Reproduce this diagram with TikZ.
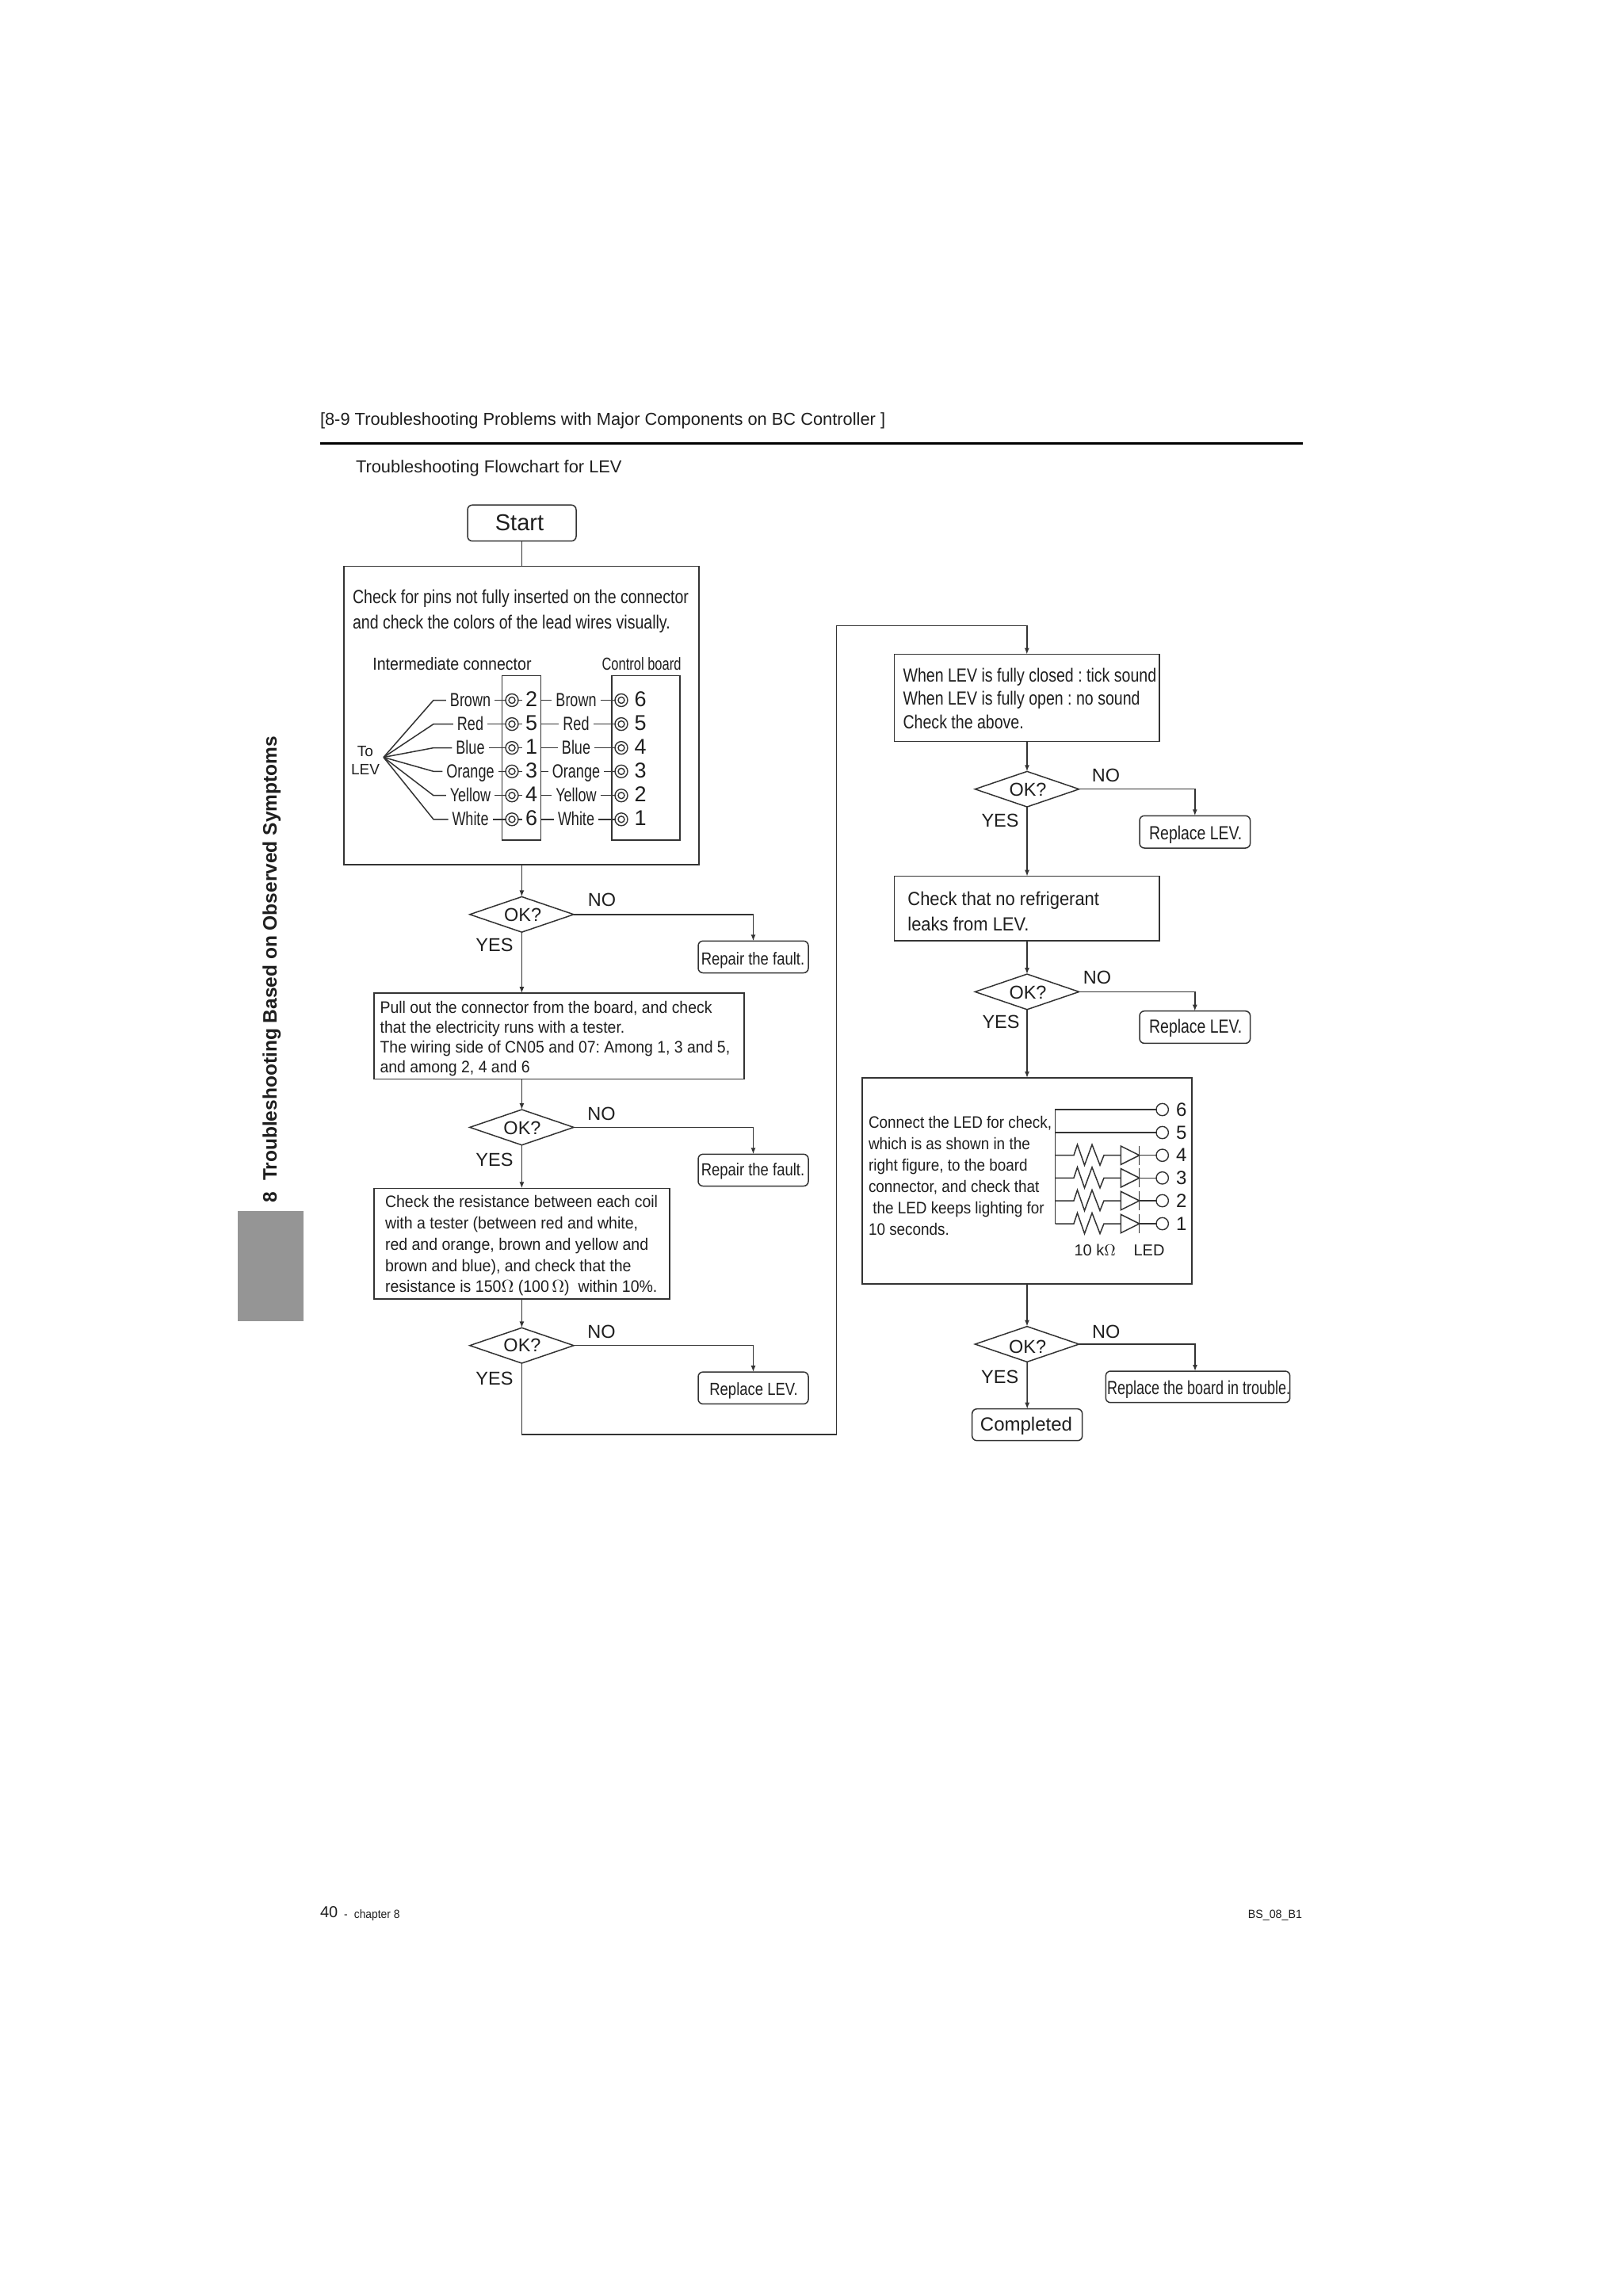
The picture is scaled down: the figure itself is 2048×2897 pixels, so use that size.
\documentclass[tikz,border=0pt]{standalone}
\usepackage{fontspec}
\setmainfont{Liberation Sans}
\usetikzlibrary{arrows.meta,shapes.geometric}
\definecolor{ln}{HTML}{333333}
\definecolor{tx}{HTML}{1E1E1E}
\definecolor{tabgrey}{HTML}{959595}
\frenchspacing
% size in reference px, horizontal stretch, leading in reference px
\newcommand{\tf}[3]{\fontsize{\fpeval{#1/2}pt}{\fpeval{#3/2}pt}\selectfont\addfontfeature{FakeStretch=#2}}
\newcommand{\rectnode}[6]{%
  \pgfmathsetmacro\rw{(#5-#3)*0.5}\pgfmathsetmacro\rh{(#6-#4)*0.5}%
  \node[#1,minimum width=\rw pt,minimum height=\rh pt] (#2) at ({(#3+#5)/2},{(#4+#6)/2}) {};}
\tikzset{
  plainbox/.style={draw=ln,line width=.75pt,inner sep=0pt,outer sep=0pt},
  roundbox/.style={plainbox,rounded corners=3pt},
  okdia/.style={diamond,draw=ln,line width=.75pt,inner sep=0pt,outer sep=0pt,minimum width=65.6pt,minimum height=22.35pt,aspect=2.93},
  txt/.style={inner sep=0pt,outer sep=0pt,text=tx},
  capline/.style={txt,text height=.716em,text depth=0pt,yshift=-.5pt},
  body/.style={txt,anchor=west,align=left},
  answer/.style={capline,font=\tf{23.5}{1}{28}},
  wire/.style={draw=ln,line width=.75pt},
  arr/.style={wire,-{Latex[length=4pt,width=3pt]}},
  pinout/.style={circle,draw=ln,line width=.7pt,inner sep=0pt,outer sep=0pt,minimum size=15.4*0.5pt},
}
\begin{document}
\begin{tikzpicture}[x=0.5pt,y=-0.5pt]
\useasboundingbox (0,0) rectangle (2048,2897);
% page furniture
\node[capline,anchor=west,font=\tf{21.85}{1}{26}] (pagehead) at (404,528) {[8-9 Troubleshooting Problems with Major Components on BC Controller ]};
\coordinate (ruleL) at (404,559.5); \coordinate (ruleR) at (1644,559.5);
\draw[line width=1.5pt,black] (ruleL) -- (ruleR);
\node[capline,anchor=west,font=\tf{21.85}{1}{26}] (chart) at (449,588) {Troubleshooting Flowchart for LEV};
\rectnode{fill=tabgrey,inner sep=0pt}{tab}{300}{1528}{383}{1667}
\node[capline,rotate=90,anchor=west,font=\tf{24.5}{1}{28}\bfseries] (sidetitle) at (342,1516) {8\hspace{.55em}Troubleshooting Based on Observed Symptoms};
\node[capline,anchor=west,font=\tf{20}{1}{24}] (pagenum) at (404,2411.5) {40};
\node[capline,anchor=west,font=\tf{15}{.92}{18}] (pagechap) at (434,2412.5) {-\hspace{.3em} chapter 8};
\node[capline,anchor=east,font=\tf{15}{.95}{18}] (pagecode) at (1643,2412.5) {BS\_08\_B1};

% left column
\rectnode{roundbox}{start}{590}{637.2}{727}{682.7}
\node[capline,font=\tf{29}{1}{32}] (startT) at (655.5,661) {Start};
\rectnode{plainbox}{b1}{434}{714.7}{882}{1091.1}
\node[body,font=\tf{24}{.815}{31.6}] (b1T) at (445,771) {\strut Check for pins not fully inserted on the connector\\\strut and check the colors of the lead wires visually.};
\node[capline,font=\tf{22}{.89}{26}] (interT) at (570.5,837.3) {Intermediate connector};
\node[capline,font=\tf{22}{.75}{26}] (ctrlT) at (809.5,837.3) {Control board};
\rectnode{plainbox}{conn}{633.5}{852.7}{682.5}{1059.9}
\rectnode{plainbox}{board}{772}{852.7}{858}{1059.9}
\node[capline,font=\tf{19}{1}{23}] (toT) at (461,946.8) {To};
\node[capline,font=\tf{19}{1}{23}] (levT) at (461,969.8) {LEV};
\coordinate (fan) at (484,955.5);
\foreach \r/\col/\pa/\pb/\yy in {1/Brown/2/6/883.5,2/Red/5/5/913.6,3/Blue/1/4/943.6,4/Orange/3/3/973.3,5/Yellow/4/2/1003.7,6/White/6/1/1033.8}{
  \node[capline,inner xsep=2.5pt,font=\tf{24}{.75}{28}] (la\r) at (593.5,\yy) {\col};
  \node[capline,inner xsep=2.5pt,font=\tf{24}{.75}{28}] (lb\r) at (727,\yy) {\col};
  \node[pinout,minimum size=8pt] (pa\r) at (646,\yy) {};
  \node[pinout,minimum size=8pt] (pb\r) at (784,\yy) {};
  \node[pinout,minimum size=4pt] (pia\r) at (646,\yy) {};
  \node[pinout,minimum size=4pt] (pib\r) at (784,\yy) {};
  \node[capline,font=\tf{27}{1}{30}] (na\r) at (670.6,\yy) {\pa};
  \node[capline,font=\tf{27}{1}{30}] (nb\r) at (808,\yy) {\pb};
  \coordinate (bend\r) at (547,\yy);
  \coordinate (stub\r) at (658.8,\yy);
  \draw[wire] (fan) -- (bend\r) -- (la\r.west |- bend\r);
  \draw[wire] (la\r.east |- bend\r) -- (pa\r.west);
  \draw[wire] (pa\r.east) -- (stub\r);
  \draw[wire] (conn.east |- bend\r) -- (lb\r.west |- bend\r);
  \draw[wire] (lb\r.east |- bend\r) -- (pb\r.west);
}
\node[okdia] (d1) at (658.4,1153.8) {};
\node[capline,font=\tf{23.5}{1}{28}] (d1T) at (659.6,1154) {OK?};
\node[answer] (d1N) at (759.6,1135) {NO};
\node[answer] (d1Y) at (624,1192.6) {YES};
\rectnode{roundbox}{r1}{881}{1187.3}{1020}{1227.5}
\node[capline,font=\tf{22}{.84}{26}] (r1T) at (950,1209) {Repair the fault.};
\rectnode{plainbox}{b2}{472}{1253.2}{939}{1361.3}
\node[body,font=\tf{21}{.925}{25}] (b2T) at (479.6,1311) {\strut Pull out the connector from the board, and check\\\strut that the electricity runs with a tester.\\\strut The wiring side of CN05 and 07: Among 1, 3 and 5,\\\strut and among 2, 4 and 6};
\node[okdia] (d2) at (658.4,1422.4) {};
\node[capline,font=\tf{23.5}{1}{28}] (d2T) at (659,1423.8) {OK?};
\node[answer] (d2N) at (759,1405.4) {NO};
\node[answer] (d2Y) at (624,1463) {YES};
\rectnode{roundbox}{r2}{881}{1456.3}{1020}{1496.5}
\node[capline,font=\tf{22}{.84}{26}] (r2T) at (950,1475.7) {Repair the fault.};
\rectnode{plainbox}{b3}{472}{1499.4}{845}{1639}
\node[body,font=\tf{21}{.93}{26.8}] (b3T) at (486,1572) {\strut Check the resistance between each coil\\\strut with a tester (between red and white,\\\strut red and orange, brown and yellow and\\\strut brown and blue), and check that the\\\strut resistance is 150$\Omega$ (100\,$\Omega$)\ \ within 10\%.};
\node[okdia] (d3) at (658.4,1697.7) {};
\node[capline,font=\tf{23.5}{1}{28}] (d3T) at (659,1697.7) {OK?};
\node[answer] (d3N) at (759,1680.7) {NO};
\node[answer] (d3Y) at (624,1738.9) {YES};
\rectnode{roundbox}{r3}{881}{1731.1}{1020}{1771.4}
\node[capline,font=\tf{22}{.84}{26}] (r3T) at (951,1752) {Replace LEV.};

% right column
\rectnode{plainbox}{b4}{1128.6}{825.7}{1463}{935.7}
\node[body,font=\tf{24}{.815}{29.3}] (b4T) at (1139.6,884) {\strut When LEV is fully closed : tick sound\\\strut When LEV is fully open : no sound\\\strut Check the above.};
\node[okdia] (d4) at (1296,995.7) {};
\node[capline,font=\tf{23.5}{1}{28}] (d4T) at (1297,996) {OK?};
\node[answer] (d4N) at (1395.4,978.2) {NO};
\node[answer] (d4Y) at (1262,1035.7) {YES};
\rectnode{roundbox}{r4}{1438}{1029.3}{1577.6}{1070}
\node[capline,font=\tf{24}{.81}{28}] (r4T) at (1508.7,1051.4) {Replace LEV.};
\rectnode{plainbox}{b5}{1128.6}{1105.7}{1463}{1187.1}
\node[body,font=\tf{24}{.915}{31.8}] (b5T) at (1145.4,1152) {\strut Check that no refrigerant\\\strut leaks from LEV.};
\node[okdia] (d5) at (1296,1251.4) {};
\node[capline,font=\tf{23.5}{1}{28}] (d5T) at (1297,1252) {OK?};
\node[answer] (d5N) at (1384.4,1232.9) {NO};
\node[answer] (d5Y) at (1263,1289.3) {YES};
\rectnode{roundbox}{r5}{1438}{1275.7}{1577.6}{1316.4}
\node[capline,font=\tf{24}{.81}{28}] (r5T) at (1508.7,1295.4) {Replace LEV.};
\rectnode{plainbox}{b6}{1088}{1360}{1504}{1620}
\node[body,font=\tf{21}{.9}{27}] (b6T) at (1096,1485.5) {\strut Connect the LED for check,\\\strut which is as shown in the\\\strut right figure, to the board\\\strut connector, and check that\\\strut\ the LED keeps lighting for\\\strut 10 seconds.};
\foreach \r/\yy in {6/1400,5/1429,4/1457.7,3/1486.3,2/1515,1/1544}{
  \node[pinout] (out\r) at (1466.7,\yy) {};
  \node[capline,font=\tf{24}{1}{28}] (outT\r) at (1490.7,\yy) {\r};
  \coordinate (busp\r) at (1331.7,\yy);
}
\draw[wire] (out6.west) -- (busp6) -- (busp1);
\draw[wire] (out5.west) -- (busp5);
\foreach \r/\yy in {4/1457.7,3/1486.3,2/1515,1/1544}{
  \draw[wire,line join=miter] (busp\r) -- (1355,\yy) -- (1359.5,\yy-13.5) -- (1368.5,\yy+12.5) -- (1378,\yy-13.5) -- (1388,\yy+12.5) -- (1393,\yy) -- (1414.3,\yy);
  \draw[wire] (1414.3,\yy-11.7) -- (1437.7,\yy) -- (1414.3,\yy+11.7) -- cycle;
  \draw[wire] (1437.7,\yy-12) -- (1437.7,\yy+12);
  \draw[wire] (1437.7,\yy) -- (out\r.west);
}
\node[capline,font=\tf{20}{1}{24}] (ohmT) at (1381.7,1576.7) {10 k$\Omega$};
\node[capline,font=\tf{20}{1}{24}] (ledT) at (1450,1576.7) {LED};
\node[okdia] (d6) at (1296,1696) {};
\node[capline,font=\tf{23.5}{1}{28}] (d6T) at (1296.7,1699) {OK?};
\node[answer] (d6N) at (1395.7,1680.7) {NO};
\node[answer] (d6Y) at (1261.7,1737) {YES};
\rectnode{roundbox}{r6}{1395.3}{1730}{1627.7}{1769.7}
\node[capline,font=\tf{24}{.75}{28}] (r6T) at (1512.7,1751.7) {Replace the board in trouble.};
\coordinate (r6in) at (1508,1730);
\rectnode{roundbox}{done}{1226.7}{1777.7}{1365.7}{1817.7}
\node[capline,font=\tf{24}{1}{28}] (doneT) at (1295,1797.7) {Completed};

% connectors
\draw[wire] (start.south -| d1.north) -- (b1.north -| d1.north);
\draw[arr] (b1.south -| d1.north) -- (d1.north);
\draw[arr] (d1.east) -| (r1.north);
\draw[arr] (d1.south) -- (b2.north -| d1.south);
\draw[arr] (b2.south -| d2.north) -- (d2.north);
\draw[arr] (d2.east) -| (r2.north);
\draw[arr] (d2.south) -- (b3.north -| d2.south);
\draw[arr] (b3.south -| d3.north) -- (d3.north);
\draw[arr] (d3.east) -| (r3.north);
\coordinate (loopB) at (1055.5,1810.1);
\coordinate (loopT) at (1055.5,789.6);
\draw[arr] (d3.south) |- (loopB) -- (loopT) -| (b4.north);
\draw[arr] (b4.south -| d4.north) -- (d4.north);
\draw[arr] (d4.east) -| (r4.north);
\draw[arr] (d4.south) -- (b5.north -| d4.south);
\draw[arr] (b5.south -| d5.north) -- (d5.north);
\draw[arr] (d5.east) -| (r5.north);
\draw[arr] (d5.south) -- (b6.north -| d5.south);
\draw[arr] (b6.south -| d6.north) -- (d6.north);
\draw[arr] (d6.east) -| (r6in);
\draw[arr] (d6.south) -- (done.north);
\end{tikzpicture}
\end{document}
